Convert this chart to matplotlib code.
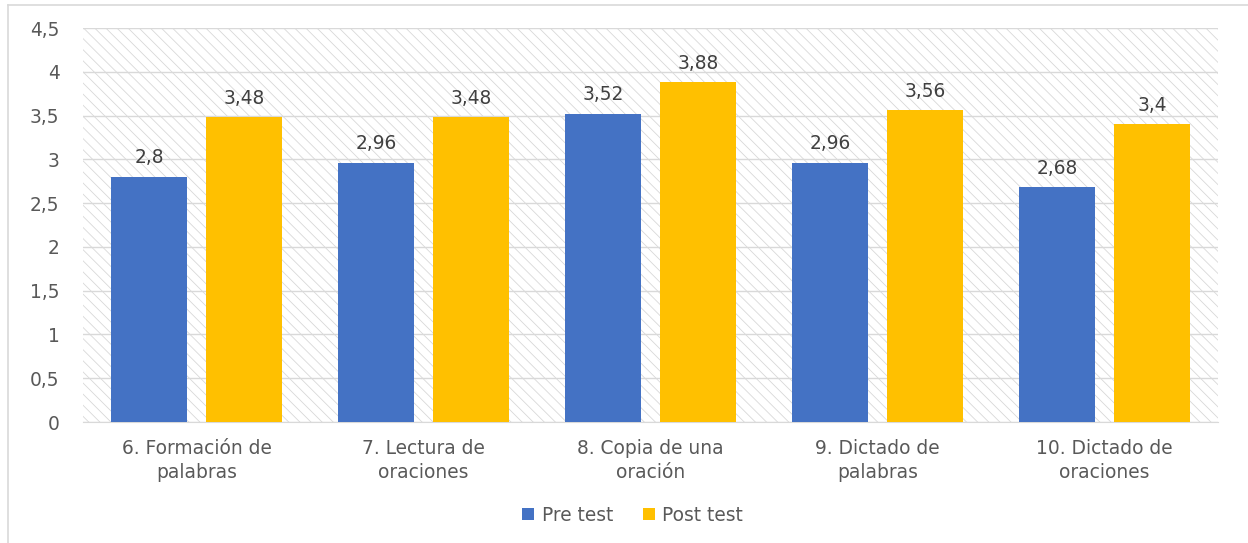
import numpy as np
import matplotlib.pyplot as plt
from matplotlib.patches import Rectangle
from matplotlib.lines import Line2D

categories = ["6. Formación de\npalabras", "7. Lectura de\noraciones", "8. Copia de una\noración",
              "9. Dictado de\npalabras", "10. Dictado de\noraciones"]
pre_test = [2.8, 2.96, 3.52, 2.96, 2.68]
post_test = [3.48, 3.48, 3.88, 3.56, 3.4]
y_ticks = [0, 0.5, 1, 1.5, 2, 2.5, 3, 3.5, 4, 4.5]

plt.rcParams['font.family'] = ['DejaVu Sans']
plt.rcParams['hatch.color'] = '#d8d8d8'
plt.rcParams['hatch.linewidth'] = 0.6

fig = plt.figure(figsize=(12.48, 5.43), dpi=100)
ax = fig.add_axes([0.0665, 0.2228, 0.9095, 0.7256])

# hatched background
ax.add_patch(Rectangle((0, 0), 1, 1, transform=ax.transAxes, facecolor='white',
                       edgecolor='#d8d8d8', hatch='\\\\\\', lw=0, zorder=0))

def comma(v):
    return ('%g' % v).replace('.', ',')

x = np.arange(len(categories))
w = 0.335
b1 = ax.bar(x - 0.209, pre_test, w, color='#4472C4', label='Pre test', zorder=3)
b2 = ax.bar(x + 0.209, post_test, w, color='#FFC000', label='Post test', zorder=3)

fs = 13.4
for bars, vals in [(b1, pre_test), (b2, post_test)]:
    for r, v in zip(bars, vals):
        ax.text(r.get_x() + r.get_width() / 2, v + 0.11, comma(v), ha='center', va='bottom',
                fontsize=fs, color='#404040', zorder=4)

ax.set_xlim(-0.5, len(categories) - 0.5)
ax.set_ylim(0, 4.5)
ax.set_yticks(y_ticks)
ax.set_yticklabels([comma(v) for v in y_ticks])
ax.set_xticks(x)
ax.set_xticklabels(categories, linespacing=1.3)
ax.tick_params(axis='y', length=0, pad=17, labelsize=fs, labelcolor='#595959')
ax.tick_params(axis='x', length=0, pad=12.5, labelsize=fs, labelcolor='#595959')
ax.grid(axis='y', color='#d9d9d9', lw=1, zorder=1)
ax.set_axisbelow(True)
for s in ['left', 'right', 'top']:
    ax.spines[s].set_visible(False)
ax.spines['bottom'].set_color('#d9d9d9')

fig.legend(handles=[b1, b2], loc='center', bbox_to_anchor=(0.507, 0.051), ncol=2, frameon=False,
           fontsize=fs, labelcolor='#595959', handlelength=0.65, handleheight=0.65,
           handletextpad=0.4, columnspacing=1.6)

# outer chart border
fig.add_artist(Line2D([8 / 1248, 8 / 1248], [0, 1 - 5 / 543], color='#d9d9d9', lw=1.2))
fig.add_artist(Line2D([8 / 1248, 1], [1 - 5 / 543, 1 - 5 / 543], color='#d9d9d9', lw=1.2))

fig.savefig('out.png', dpi=100)
